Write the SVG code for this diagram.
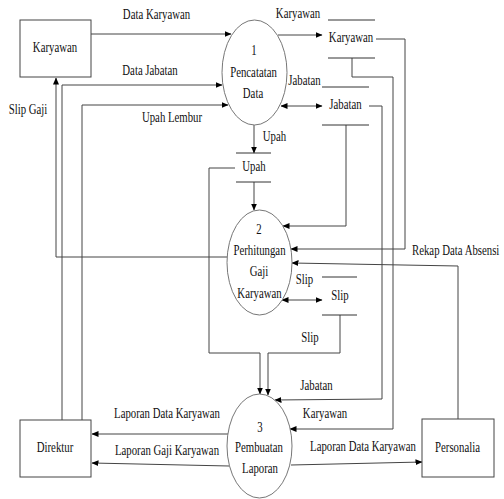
<svg xmlns="http://www.w3.org/2000/svg" width="504" height="499" viewBox="0 0 504 499">
<defs>
<marker id="ah" markerWidth="7" markerHeight="6" refX="6.5" refY="3" orient="auto" markerUnits="userSpaceOnUse">
<path d="M0,0 L7,3 L0,6 Z" fill="#000"/>
</marker>
<marker id="as" markerWidth="7" markerHeight="6" refX="0.5" refY="3" orient="auto" markerUnits="userSpaceOnUse">
<path d="M7,0 L0,3 L7,6 Z" fill="#000"/>
</marker>
</defs>
<style>
text{font-family:'Liberation Serif','Times New Roman',serif;font-size:14px;fill:#111;text-anchor:middle}
.st{text-anchor:start}
.box{fill:#fff;stroke:#444;stroke-width:1}
.proc{fill:#fff;stroke:#777;stroke-width:1}
.ln{fill:none;stroke:#444;stroke-width:1}
.ds{fill:none;stroke:#333;stroke-width:1}
</style>
<rect width="504" height="499" fill="#fff"/>
<g id="connectors">
<path class="ln" d="M91,34 L231,34" marker-end="url(#ah)"/>
<path class="ln" d="M62,420 L62,85 L222,85" marker-end="url(#ah)"/>
<path class="ln" d="M82,420 L82,105 L228,105" marker-end="url(#ah)"/>
<path class="ln" d="M227,257 L56,257 L56,78" marker-end="url(#ah)"/>
<path class="ln" d="M278,35 L322,35" marker-end="url(#ah)"/>
<path class="ln" d="M281,106 L322,106" marker-start="url(#as)" marker-end="url(#ah)"/>
<path class="ln" d="M254,125 L254,153" marker-end="url(#ah)"/>
<path class="ln" d="M254,182 L254,210" marker-end="url(#ah)"/>
<path class="ln" d="M235,168 L209,168 L209,353 L260,353 L260,394" marker-end="url(#ah)"/>
<path class="ln" d="M340,315 L340,353 L268,353 L268,395" marker-end="url(#ah)"/>
<path class="ln" d="M282,300 L322,300" marker-start="url(#as)" marker-end="url(#ah)"/>
<path class="ln" d="M346,125 L346,226 L283,226" marker-end="url(#ah)"/>
<path class="ln" d="M376,39 L405,39 L405,249 L291,249" marker-end="url(#ah)"/>
<path class="ln" d="M458,419 L458,266 L292,263" marker-end="url(#ah)"/>
<path class="ln" d="M352,58 L352,77 L393,77 L393,429 L290,429" marker-end="url(#ah)"/>
<path class="ln" d="M369,106 L382,106 L382,399 L275,400" marker-end="url(#ah)"/>
<path class="ln" d="M228,434 L92,434" marker-end="url(#ah)"/>
<path class="ln" d="M229,466 L92,463" marker-end="url(#ah)"/>
<path class="ln" d="M291,465 L422,462" marker-end="url(#ah)"/>
</g>
<g id="labels">
<text transform="translate(156.5,19) scale(0.77,1)">Data Karyawan</text>
<text transform="translate(150,75) scale(0.77,1)">Data Jabatan</text>
<text transform="translate(28,114) scale(0.77,1)">Slip Gaji</text>
<text transform="translate(172,122) scale(0.77,1)">Upah Lembur</text>
<text transform="translate(298,18) scale(0.77,1)">Karyawan</text>
<text transform="translate(304.5,85) scale(0.77,1)">Jabatan</text>
<text transform="translate(274.5,141) scale(0.77,1)">Upah</text>
<text class="st" transform="translate(412,255) scale(0.77,1)">Rekap Data Absensi</text>
<text transform="translate(304.5,284) scale(0.77,1)">Slip</text>
<text transform="translate(310,342) scale(0.77,1)">Slip</text>
<text transform="translate(316.5,390) scale(0.77,1)">Jabatan</text>
<text transform="translate(325,418) scale(0.77,1)">Karyawan</text>
<text transform="translate(167,418) scale(0.77,1)">Laporan Data Karyawan</text>
<text transform="translate(167,455) scale(0.77,1)">Laporan Gaji Karyawan</text>
<text transform="translate(363,451) scale(0.77,1)">Laporan Data Karyawan</text>
</g>
<g id="karyawan">
<rect class="box" x="20" y="20" width="71" height="57"/>
<text transform="translate(55,52) scale(0.77,1)">Karyawan</text>
</g>
<g id="direktur">
<rect class="box" x="20" y="420" width="71" height="57"/>
<text transform="translate(55,452) scale(0.77,1)">Direktur</text>
</g>
<g id="personalia">
<rect class="box" x="422" y="419" width="72" height="58"/>
<text transform="translate(457.5,452) scale(0.77,1)">Personalia</text>
</g>
<g id="proses1">
<ellipse class="proc" cx="254.5" cy="72.5" rx="32.5" ry="52.5"/>
<text transform="translate(254,55) scale(0.77,1)">1</text>
<text transform="translate(253.5,77) scale(0.77,1)">Pencatatan</text>
<text transform="translate(253,98) scale(0.77,1)">Data</text>
</g>
<g id="proses2">
<ellipse class="proc" cx="259.5" cy="262.5" rx="32.5" ry="52.5"/>
<text transform="translate(259,234) scale(0.77,1)">2</text>
<text transform="translate(259.5,255) scale(0.77,1)">Perhitungan</text>
<text transform="translate(259,276) scale(0.77,1)">Gaji</text>
<text transform="translate(259.5,298) scale(0.77,1)">Karyawan</text>
</g>
<g id="proses3">
<ellipse class="proc" cx="259.5" cy="446" rx="32.5" ry="52"/>
<text transform="translate(260,432) scale(0.77,1)">3</text>
<text transform="translate(259,452) scale(0.77,1)">Pembuatan</text>
<text transform="translate(260,473) scale(0.77,1)">Laporan</text>
</g>
<g id="ds-karyawan">
<line class="ds" x1="328" y1="20" x2="375" y2="20"/>
<line class="ds" x1="328" y1="58" x2="375" y2="58"/>
<text transform="translate(351,42) scale(0.77,1)">Karyawan</text>
</g>
<g id="ds-jabatan">
<line class="ds" x1="322" y1="87" x2="369" y2="87"/>
<line class="ds" x1="322" y1="125" x2="369" y2="125"/>
<text transform="translate(345.5,109) scale(0.77,1)">Jabatan</text>
</g>
<g id="ds-upah">
<line class="ds" x1="236" y1="153" x2="271" y2="153"/>
<line class="ds" x1="236" y1="182" x2="271" y2="182"/>
<text transform="translate(254,171) scale(0.77,1)">Upah</text>
</g>
<g id="ds-slip">
<line class="ds" x1="322" y1="277" x2="357" y2="277"/>
<line class="ds" x1="322" y1="315" x2="357" y2="315"/>
<text transform="translate(340,300) scale(0.77,1)">Slip</text>
</g>
</svg>
